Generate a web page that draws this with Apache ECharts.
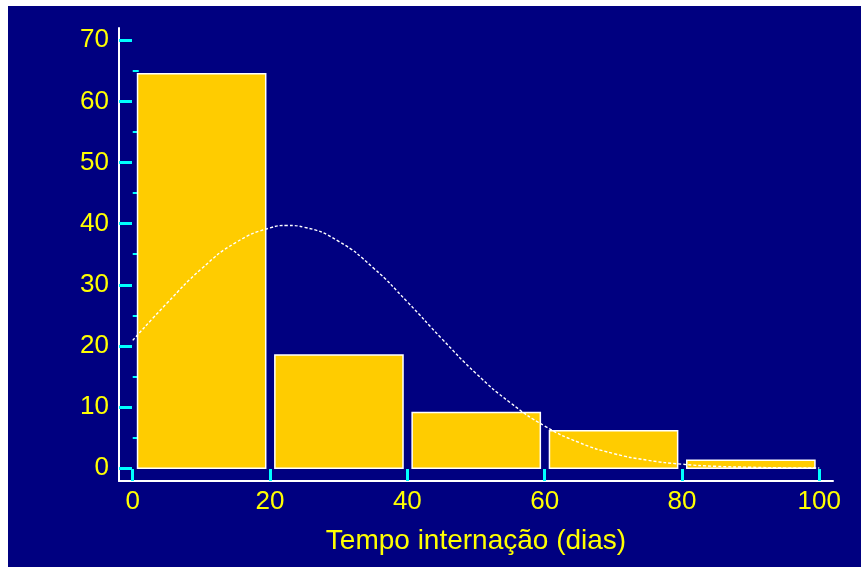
<!DOCTYPE html>
<html>
<head>
<meta charset="utf-8">
<script src="https://cdn.jsdelivr.net/npm/echarts@6/dist/echarts.min.js"></script>
<style>
  html, body { margin: 0; padding: 0; background: #ffffff; }
  #wrap { position: relative; width: 861px; height: 567px; background: #ffffff; }
  #chart { position: absolute; left: 8px; top: 6px; width: 853px; height: 561px; }
</style>
</head>
<body>
<div id="wrap"><div id="chart"></div></div>
<script>
// Histogram of hospital stay (days), 20-day bins, with a fitted normal curve
const binStarts = [0, 20, 40, 60, 80];
const binWidth = 20;
const binCounts = [64.5, 18.5, 9.1, 6.1, 1.3];

// Fitted curve, read every 5 days
const curveX = [0, 5, 10, 15, 20, 22.5, 25, 30, 35, 40, 45, 50, 55, 60, 65, 70, 75, 80, 85, 90, 95, 100];
const curveY = [20.9, 27.0, 32.6, 36.9, 39.3, 39.7, 39.4, 37.1, 32.8, 27.2, 21.2, 15.5, 10.7, 6.9, 4.2, 2.4, 1.3, 0.65, 0.3, 0.15, 0.05, 0.02];

const xTicks = [0, 20, 40, 60, 80, 100];
const yTicks = [0, 10, 20, 30, 40, 50, 60, 70];
const yMinorTicks = [5, 15, 25, 35, 45, 55, 65];
const xTitle = 'Tempo internação (dias)';

const YELLOW = '#ffff00';
const CYAN = '#00ffff';
const FONT = '"Liberation Sans", Arial, sans-serif';

const chart = echarts.init(document.getElementById('chart'), null, { renderer: 'canvas' });

const barData = binStarts.map((s, i) => [s, s + binWidth, binCounts[i]]);
const curveData = curveX.map((x, i) => [x, curveY[i]]);

chart.setOption({
  backgroundColor: '#000080',
  animation: false,
  grid: { left: 111, top: 22, right: 28, bottom: 86 },
  xAxis: {
    type: 'value',
    min: -2,
    max: 102,
    name: xTitle,
    nameLocation: 'middle',
    nameGap: 46,
    nameTextStyle: { color: YELLOW, fontSize: 28, fontFamily: FONT },
    axisLine: { show: true, onZero: false, lineStyle: { color: '#ffffff', width: 2 } },
    axisTick: { show: true, inside: true, length: 12, customValues: xTicks, lineStyle: { color: CYAN, width: 3 } },
    axisLabel: { color: YELLOW, fontSize: 26, fontFamily: FONT, margin: 8, customValues: xTicks },
    splitLine: { show: false }
  },
  yAxis: [
    {
      type: 'value',
      position: 'left',
      min: -2.1,
      max: 72,
      axisLine: { show: true, onZero: false, lineStyle: { color: '#ffffff', width: 2 } },
      axisTick: { show: true, inside: true, length: 13, customValues: yTicks, lineStyle: { color: CYAN, width: 3 } },
      axisLabel: { color: YELLOW, fontSize: 26, fontFamily: FONT, margin: 10, customValues: yTicks },
      splitLine: { show: false }
    },
    {
      type: 'value',
      position: 'left',
      offset: 0,
      min: -2.1,
      max: 72,
      axisLine: { show: false },
      axisTick: { show: true, inside: true, length: 6, customValues: yMinorTicks, lineStyle: { color: CYAN, width: 2 } },
      axisLabel: { show: false },
      splitLine: { show: false }
    }
  ],
  series: [
    {
      type: 'custom',
      data: barData,
      z: 2,
      renderItem: function (params, api) {
        const start = api.value(0);
        const end = api.value(1);
        const h = api.value(2);
        const gap = (end - start) * 0.035;
        const p0 = api.coord([start + gap, h]);
        const p1 = api.coord([end - gap * 0.9, 0]);
        return {
          type: 'rect',
          shape: { x: p0[0], y: p0[1], width: p1[0] - p0[0], height: p1[1] - p0[1] },
          style: { fill: '#ffcc00', stroke: '#ffffff', lineWidth: 1.5 }
        };
      }
    },
    {
      type: 'line',
      data: curveData,
      z: 3,
      smooth: true,
      showSymbol: false,
      lineStyle: { color: '#ffffff', width: 1.4, type: [3, 2] }
    }
  ]
});
</script>
</body>
</html>
